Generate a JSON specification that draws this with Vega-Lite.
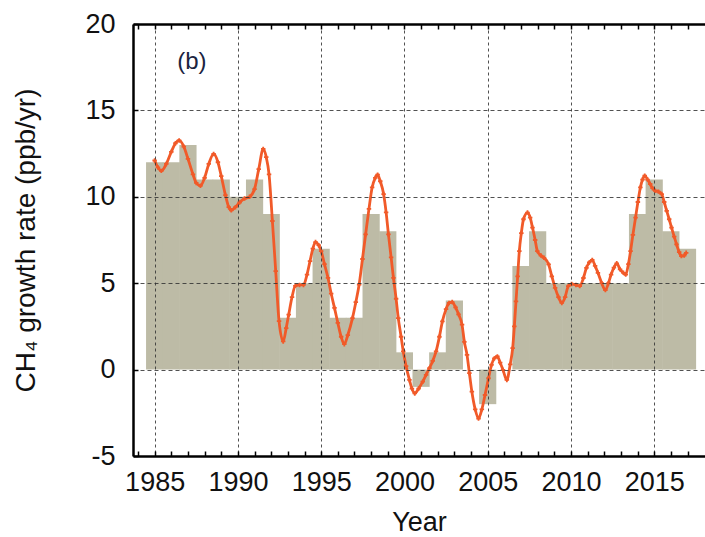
{
  "$schema": "https://vega.github.io/schema/vega-lite/v6.json",
  "width": 572,
  "height": 432,
  "autosize": {"type": "none"},
  "padding": {"left": 133, "top": 24, "right": 0, "bottom": 81},
  "config": {
    "view": {"stroke": null},
    "font": "Liberation Sans",
    "axis": {
      "labelFont": "Liberation Sans",
      "titleFont": "Liberation Sans",
      "labelFontSize": 27,
      "titleFontSize": 27,
      "titleFontWeight": "normal",
      "labelColor": "#111111",
      "titleColor": "#111111",
      "domainColor": "#000000",
      "domainWidth": 2.5,
      "tickColor": "#000000",
      "tickWidth": 1.5
    }
  },
  "datasets": {
    "annual": [
      {"year": 1985, "rate": 12}, {"year": 1986, "rate": 12}, {"year": 1987, "rate": 13},
      {"year": 1988, "rate": 11}, {"year": 1989, "rate": 11}, {"year": 1990, "rate": 10},
      {"year": 1991, "rate": 11}, {"year": 1992, "rate": 9}, {"year": 1993, "rate": 3},
      {"year": 1994, "rate": 5}, {"year": 1995, "rate": 7}, {"year": 1996, "rate": 3},
      {"year": 1997, "rate": 3}, {"year": 1998, "rate": 9}, {"year": 1999, "rate": 8},
      {"year": 2000, "rate": 1}, {"year": 2001, "rate": -1}, {"year": 2002, "rate": 1},
      {"year": 2003, "rate": 4}, {"year": 2004, "rate": 0}, {"year": 2005, "rate": -2},
      {"year": 2006, "rate": 0}, {"year": 2007, "rate": 6}, {"year": 2008, "rate": 8},
      {"year": 2009, "rate": 5}, {"year": 2010, "rate": 5}, {"year": 2011, "rate": 5},
      {"year": 2012, "rate": 5}, {"year": 2013, "rate": 5}, {"year": 2014, "rate": 9},
      {"year": 2015, "rate": 11}, {"year": 2016, "rate": 8}, {"year": 2017, "rate": 7}
    ],
    "smoothed": [
      {"t": 1985.0, "rate": 12.1}, {"t": 1985.2, "rate": 11.7}, {"t": 1985.4, "rate": 11.5},
      {"t": 1985.7, "rate": 11.9}, {"t": 1986.0, "rate": 12.6}, {"t": 1986.25, "rate": 13.1},
      {"t": 1986.47, "rate": 13.26}, {"t": 1986.75, "rate": 12.9}, {"t": 1987.0, "rate": 12.2},
      {"t": 1987.3, "rate": 11.3}, {"t": 1987.5, "rate": 10.8}, {"t": 1987.75, "rate": 10.64},
      {"t": 1988.0, "rate": 11.1}, {"t": 1988.25, "rate": 11.9}, {"t": 1988.54, "rate": 12.48},
      {"t": 1988.8, "rate": 12.0}, {"t": 1989.0, "rate": 11.2}, {"t": 1989.25, "rate": 10.1},
      {"t": 1989.45, "rate": 9.4}, {"t": 1989.6, "rate": 9.22}, {"t": 1989.85, "rate": 9.4},
      {"t": 1990.1, "rate": 9.67}, {"t": 1990.4, "rate": 9.9}, {"t": 1990.7, "rate": 10.0},
      {"t": 1991.0, "rate": 10.45}, {"t": 1991.25, "rate": 11.6}, {"t": 1991.52, "rate": 12.77},
      {"t": 1991.7, "rate": 12.3}, {"t": 1991.87, "rate": 11.3}, {"t": 1992.07, "rate": 8.6},
      {"t": 1992.27, "rate": 5.7}, {"t": 1992.47, "rate": 2.8}, {"t": 1992.72, "rate": 1.63},
      {"t": 1992.9, "rate": 2.4}, {"t": 1993.05, "rate": 3.18}, {"t": 1993.25, "rate": 4.2},
      {"t": 1993.45, "rate": 4.85}, {"t": 1993.7, "rate": 4.9}, {"t": 1993.94, "rate": 4.9},
      {"t": 1994.15, "rate": 5.5}, {"t": 1994.33, "rate": 6.28}, {"t": 1994.5, "rate": 7.0},
      {"t": 1994.66, "rate": 7.38}, {"t": 1994.85, "rate": 7.2}, {"t": 1995.0, "rate": 6.86},
      {"t": 1995.2, "rate": 6.1}, {"t": 1995.41, "rate": 5.31}, {"t": 1995.6, "rate": 4.4},
      {"t": 1995.8, "rate": 3.57}, {"t": 1996.0, "rate": 2.7}, {"t": 1996.2, "rate": 1.9},
      {"t": 1996.39, "rate": 1.47}, {"t": 1996.6, "rate": 2.0}, {"t": 1996.88, "rate": 2.98},
      {"t": 1997.08, "rate": 3.9}, {"t": 1997.28, "rate": 4.92}, {"t": 1997.48, "rate": 6.4},
      {"t": 1997.67, "rate": 7.83}, {"t": 1997.87, "rate": 9.3}, {"t": 1998.06, "rate": 10.54},
      {"t": 1998.25, "rate": 11.1}, {"t": 1998.39, "rate": 11.28}, {"t": 1998.55, "rate": 10.9},
      {"t": 1998.75, "rate": 10.16}, {"t": 1998.9, "rate": 9.1}, {"t": 1999.04, "rate": 7.83},
      {"t": 1999.2, "rate": 6.5}, {"t": 1999.34, "rate": 5.31}, {"t": 1999.5, "rate": 4.1},
      {"t": 1999.63, "rate": 2.98}, {"t": 1999.8, "rate": 1.9}, {"t": 1999.93, "rate": 1.05},
      {"t": 2000.1, "rate": 0.2}, {"t": 2000.3, "rate": -0.6}, {"t": 2000.45, "rate": -1.1},
      {"t": 2000.62, "rate": -1.38}, {"t": 2000.85, "rate": -1.1}, {"t": 2001.1, "rate": -0.7},
      {"t": 2001.3, "rate": -0.3}, {"t": 2001.5, "rate": 0.08}, {"t": 2001.7, "rate": 0.5},
      {"t": 2001.9, "rate": 1.05}, {"t": 2002.1, "rate": 1.9}, {"t": 2002.28, "rate": 2.79},
      {"t": 2002.5, "rate": 3.5}, {"t": 2002.68, "rate": 3.86}, {"t": 2002.87, "rate": 3.91},
      {"t": 2003.07, "rate": 3.6}, {"t": 2003.25, "rate": 3.2}, {"t": 2003.46, "rate": 2.6},
      {"t": 2003.6, "rate": 1.6}, {"t": 2003.76, "rate": 0.85}, {"t": 2003.9, "rate": -0.2},
      {"t": 2004.05, "rate": -1.28}, {"t": 2004.25, "rate": -2.3}, {"t": 2004.45, "rate": -2.83},
      {"t": 2004.65, "rate": -2.3}, {"t": 2004.84, "rate": -1.47}, {"t": 2005.05, "rate": -0.5},
      {"t": 2005.23, "rate": 0.27}, {"t": 2005.4, "rate": 0.65}, {"t": 2005.58, "rate": 0.76},
      {"t": 2005.75, "rate": 0.4}, {"t": 2005.92, "rate": -0.02}, {"t": 2006.15, "rate": -0.6},
      {"t": 2006.35, "rate": 0.3}, {"t": 2006.5, "rate": 1.24}, {"t": 2006.6, "rate": 2.5},
      {"t": 2006.7, "rate": 3.95}, {"t": 2006.8, "rate": 5.4}, {"t": 2006.9, "rate": 6.86},
      {"t": 2007.02, "rate": 7.9}, {"t": 2007.15, "rate": 8.7}, {"t": 2007.39, "rate": 9.09},
      {"t": 2007.55, "rate": 8.8}, {"t": 2007.69, "rate": 8.22}, {"t": 2007.85, "rate": 7.5},
      {"t": 2007.98, "rate": 6.86}, {"t": 2008.2, "rate": 6.6}, {"t": 2008.38, "rate": 6.47},
      {"t": 2008.66, "rate": 6.09}, {"t": 2008.85, "rate": 5.4}, {"t": 2009.05, "rate": 4.73},
      {"t": 2009.25, "rate": 4.2}, {"t": 2009.45, "rate": 3.86}, {"t": 2009.65, "rate": 4.2},
      {"t": 2009.84, "rate": 4.83}, {"t": 2010.04, "rate": 4.96}, {"t": 2010.3, "rate": 4.9},
      {"t": 2010.53, "rate": 4.83}, {"t": 2010.75, "rate": 5.3}, {"t": 2010.93, "rate": 5.89},
      {"t": 2011.1, "rate": 6.2}, {"t": 2011.28, "rate": 6.35}, {"t": 2011.45, "rate": 6.0},
      {"t": 2011.62, "rate": 5.6}, {"t": 2011.85, "rate": 5.0}, {"t": 2012.07, "rate": 4.6},
      {"t": 2012.25, "rate": 5.0}, {"t": 2012.41, "rate": 5.5}, {"t": 2012.58, "rate": 5.9},
      {"t": 2012.75, "rate": 6.15}, {"t": 2012.95, "rate": 5.8}, {"t": 2013.15, "rate": 5.6},
      {"t": 2013.29, "rate": 5.5}, {"t": 2013.45, "rate": 6.1}, {"t": 2013.58, "rate": 6.86},
      {"t": 2013.72, "rate": 7.8}, {"t": 2013.88, "rate": 8.8}, {"t": 2014.02, "rate": 9.7},
      {"t": 2014.17, "rate": 10.54}, {"t": 2014.3, "rate": 11.0}, {"t": 2014.43, "rate": 11.22},
      {"t": 2014.6, "rate": 11.0}, {"t": 2014.76, "rate": 10.74}, {"t": 2014.9, "rate": 10.5},
      {"t": 2015.06, "rate": 10.35}, {"t": 2015.25, "rate": 10.3}, {"t": 2015.45, "rate": 10.16},
      {"t": 2015.6, "rate": 9.7}, {"t": 2015.75, "rate": 9.19}, {"t": 2015.9, "rate": 8.7},
      {"t": 2016.04, "rate": 8.22}, {"t": 2016.2, "rate": 7.7}, {"t": 2016.34, "rate": 7.25},
      {"t": 2016.5, "rate": 6.8}, {"t": 2016.63, "rate": 6.57}, {"t": 2016.8, "rate": 6.6},
      {"t": 2016.92, "rate": 6.76}
    ],
    "panel": [{"t": 1987.24, "rate": 17.8, "label": "(b)"}]
  },
  "layer": [
    {
      "data": {"name": "annual"},
      "mark": {"type": "bar", "color": "#bdbba6", "width": 17.2},
      "encoding": {
        "x": {
          "field": "year",
          "type": "quantitative",
          "scale": {"domain": [1984, 2017.75], "nice": false, "zero": false},
          "axis": {
            "orient": "bottom",
            "title": "Year",
            "values": [1984, 1985, 1986, 1987, 1988, 1989, 1990, 1991, 1992, 1993, 1994, 1995, 1996, 1997, 1998, 1999, 2000, 2001, 2002, 2003, 2004, 2005, 2006, 2007, 2008, 2009, 2010, 2011, 2012, 2013, 2014, 2015, 2016, 2017],
            "format": "d",
            "labelExpr": "datum.value % 5 === 0 ? datum.label : ''",
            "labelFlush": false,
            "labelOverlap": false,
            "tickSize": -5,
            "labelPadding": 18,
            "titlePadding": 14,
            "grid": true,
            "gridColor": "#333333",
            "gridDash": [3, 3],
            "gridWidth": 1,
            "gridOpacity": {"condition": {"test": "datum.value % 5 === 0", "value": 0.85}, "value": 0},
            "zindex": 1
          }
        },
        "y": {
          "field": "rate",
          "type": "quantitative",
          "scale": {"domain": [-5, 20], "nice": false, "zero": false},
          "axis": {
            "orient": "left",
            "title": "CH₄ growth rate (ppb/yr)",
            "titleFontSize": 28,
            "values": [-5, 0, 5, 10, 15, 20],
            "labelExpr": "replace(datum.label, '−', '-')",
            "tickSize": -5,
            "labelPadding": 23,
            "titlePadding": 44,
            "grid": true,
            "gridColor": "#333333",
            "gridDash": [4, 3],
            "gridWidth": 1,
            "gridOpacity": 0.85,
            "zindex": 1
          }
        },
        "y2": {"datum": 0}
      }
    },
    {
      "data": {"name": "smoothed"},
      "mark": {
        "type": "line",
        "color": "#f15a29",
        "strokeWidth": 2.8,
        "interpolate": "monotone",
        "point": {"shape": "cross", "size": 20, "filled": true, "color": "#f15a29"}
      },
      "encoding": {
        "x": {
          "field": "t",
          "type": "quantitative",
          "scale": {"domain": [1984, 2017.75], "nice": false, "zero": false},
          "axis": {
            "orient": "top",
            "title": null,
            "labels": false,
            "values": [1984, 1985, 1986, 1987, 1988, 1989, 1990, 1991, 1992, 1993, 1994, 1995, 1996, 1997, 1998, 1999, 2000, 2001, 2002, 2003, 2004, 2005, 2006, 2007, 2008, 2009, 2010, 2011, 2012, 2013, 2014, 2015, 2016, 2017],
            "tickSize": -5,
            "grid": false,
            "zindex": 1
          }
        },
        "y": {
          "field": "rate",
          "type": "quantitative",
          "scale": {"domain": [-5, 20], "nice": false, "zero": false},
          "axis": {
            "orient": "left",
            "title": "CH₄ growth rate (ppb/yr)",
            "titleFontSize": 28,
            "values": [-5, 0, 5, 10, 15, 20],
            "labelExpr": "replace(datum.label, '−', '-')",
            "tickSize": -5,
            "labelPadding": 23,
            "titlePadding": 44,
            "grid": true,
            "gridColor": "#333333",
            "gridDash": [4, 3],
            "gridWidth": 1,
            "gridOpacity": 0.85,
            "zindex": 1
          }
        }
      }
    },
    {
      "data": {"name": "panel"},
      "mark": {"type": "text", "fontSize": 24, "color": "#1b2440", "font": "Liberation Sans"},
      "encoding": {
        "x": {"field": "t", "type": "quantitative", "axis": null},
        "y": {
          "field": "rate",
          "type": "quantitative",
          "scale": {"domain": [-5, 20], "nice": false, "zero": false},
          "axis": {
            "orient": "left",
            "title": "CH₄ growth rate (ppb/yr)",
            "titleFontSize": 28,
            "values": [-5, 0, 5, 10, 15, 20],
            "labelExpr": "replace(datum.label, '−', '-')",
            "tickSize": -5,
            "labelPadding": 23,
            "titlePadding": 44,
            "grid": true,
            "gridColor": "#333333",
            "gridDash": [4, 3],
            "gridWidth": 1,
            "gridOpacity": 0.85,
            "zindex": 1
          }
        },
        "text": {"field": "label"}
      }
    }
  ],
  "resolve": {"axis": {"x": "independent", "y": "shared"}}
}
